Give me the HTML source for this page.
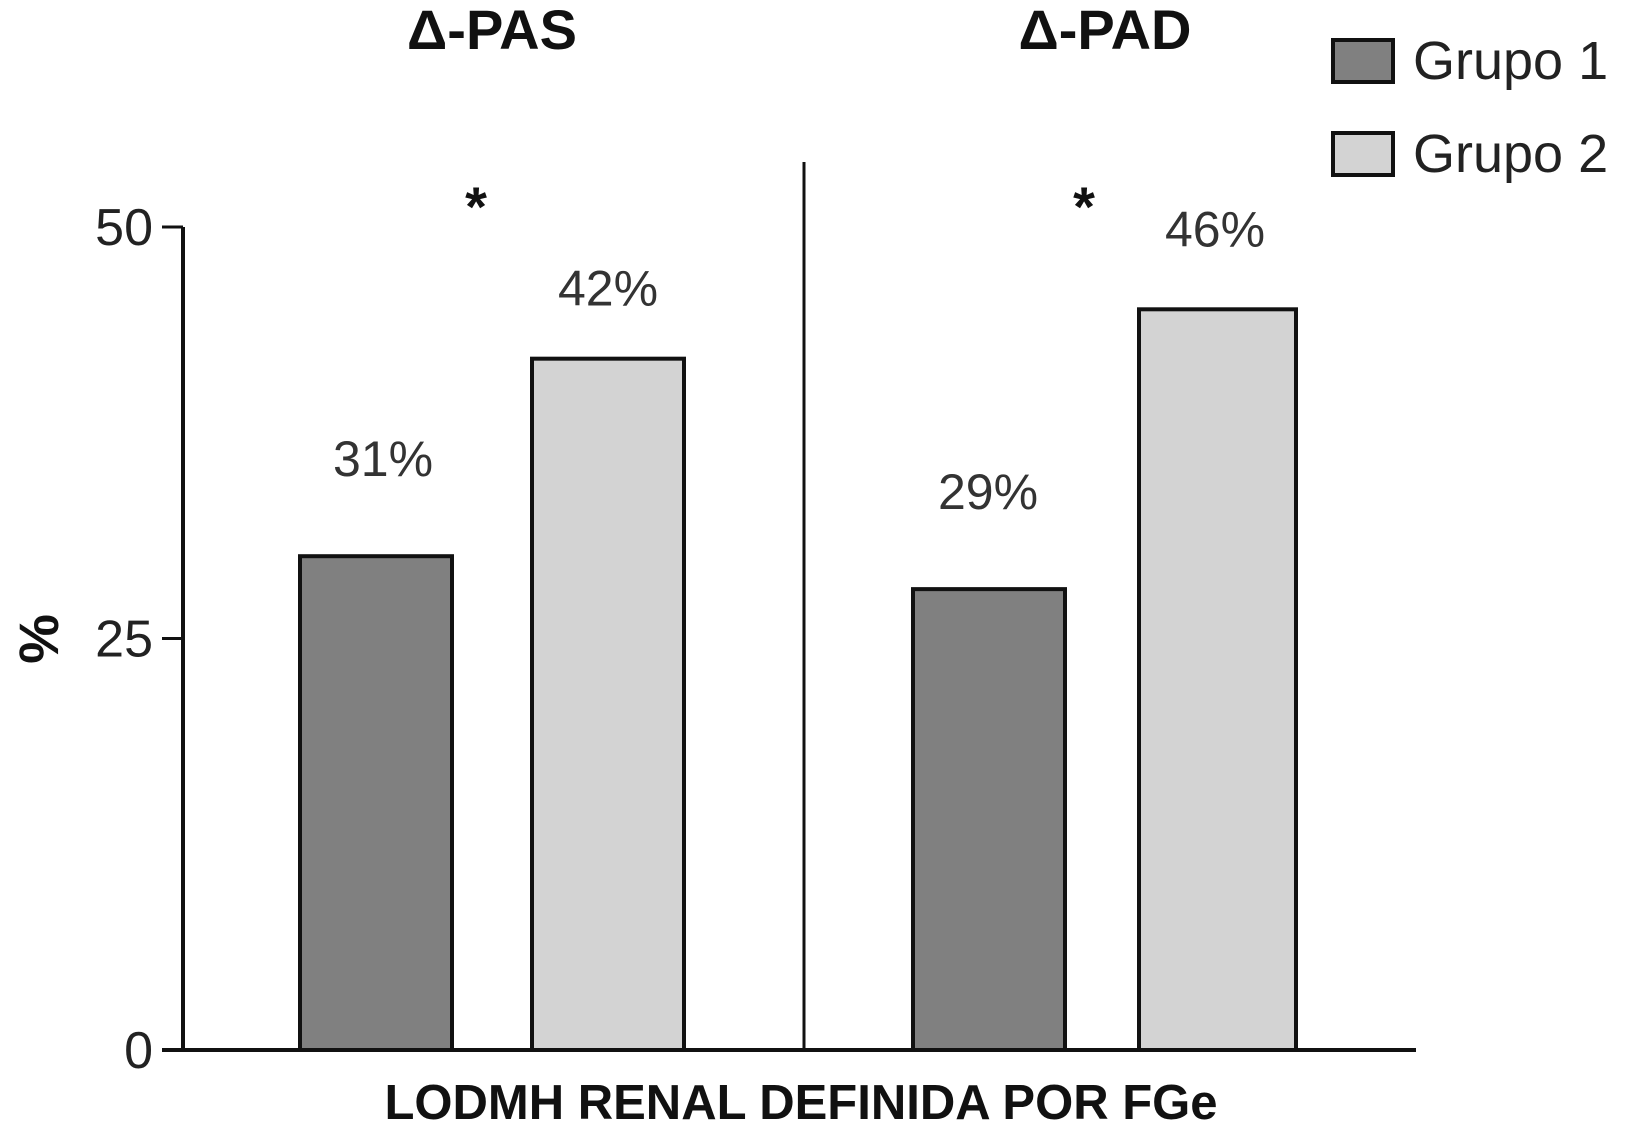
<!DOCTYPE html>
<html><head><meta charset="utf-8"><style>
html,body{margin:0;padding:0;background:#fff;}
svg{display:block;font-family:"Liberation Sans",sans-serif;}
</style></head><body>
<svg id="chart" width="1642" height="1128" viewBox="0 0 1642 1128">
</svg>
<script>
const groups = ["Δ-PAS", "Δ-PAD"];
const grupo1 = [30, 28];
const grupo2 = [42, 45];
const labels1 = ["31%", "29%"];
const labels2 = ["42%", "46%"];
const yTicks = [0, 25, 50];

const NS = "http://www.w3.org/2000/svg";
const svg = document.getElementById('chart');
const y0 = 1050, pxPerUnit = 16.46;
function y(v){ return y0 - v * pxPerUnit; }
const groupLeft = [300, 913];
const g2Offset = [232, 226];
const barW = 152;
function mk(tag, attrs, text){
  const e = document.createElementNS(NS, tag);
  for (const k in attrs) e.setAttribute(k, attrs[k]);
  if (text !== undefined) e.textContent = text;
  svg.appendChild(e);
  return e;
}
let e;
e = mk('line',{x1:183,y1:y(50),x2:183,y2:y0,stroke:'#111','stroke-width':4});


e = mk('line',{x1:162,y1:y0,x2:1416,y2:y0,stroke:'#111','stroke-width':4});


e = mk('line',{x1:804,y1:162,x2:804,y2:y0,stroke:'#111','stroke-width':3});


yTicks.forEach(t=>{
  e = mk('line',{x1:162,y1:y(t),x2:183,y2:y(t),stroke:'#111','stroke-width':3});
  
  
  e = mk('text',{x:153,y:y(t)+18,'text-anchor':'end','font-size':52,fill:'#222'}, String(t));
  
  
});
groups.forEach((g,i)=>{
  const x1 = groupLeft[i], x2 = groupLeft[i] + g2Offset[i];
  e = mk('rect',{x:x1,y:y(grupo1[i]),width:barW,height:y0-y(grupo1[i]),fill:'#808080',stroke:'#111','stroke-width':4});
  
  
  e = mk('rect',{x:x2,y:y(grupo2[i]),width:barW+(i?5:0),height:y0-y(grupo2[i]),fill:'#d3d3d3',stroke:'#111','stroke-width':4});
  
  
  e = mk('text',{x:x1+barW/2+(i?-1:7),y:y(grupo1[i])-80,'text-anchor':'middle','font-size':50,fill:'#333'}, labels1[i]);
  
  
  e = mk('text',{x:x2+barW/2,y:y(grupo2[i])-53-(i?10:0),'text-anchor':'middle','font-size':50,fill:'#333'}, labels2[i]);
  
  
  e = mk('text',{x:[476,1084][i],y:226,'text-anchor':'middle','font-size':56,'font-weight':'bold',fill:'#111'}, '*');
  
  
  e = mk('text',{x:[492,1105][i],y:49,'text-anchor':'middle','font-size':56,'font-weight':'bold',fill:'#111'}, g);
  
  
});
e = mk('text',{x:801,y:1119,'text-anchor':'middle','font-size':49,'font-weight':'bold',fill:'#111'}, 'LODMH RENAL DEFINIDA POR FGe');


e = mk('text',{x:0,y:0,'text-anchor':'middle','font-size':56,'font-weight':'bold',fill:'#111',transform:'translate(58,639) rotate(-90)'}, '%');


[['Grupo 1','#808080',40],['Grupo 2','#d3d3d3',133]].forEach((l,i)=>{
  e = mk('rect',{x:1333,y:l[2],width:60,height:42,fill:l[1],stroke:'#111','stroke-width':4});
  
  
  e = mk('text',{x:1413,y:l[2]+39,'font-size':54,fill:'#222'}, l[0]);
  
  
});
</script>
</body></html>
